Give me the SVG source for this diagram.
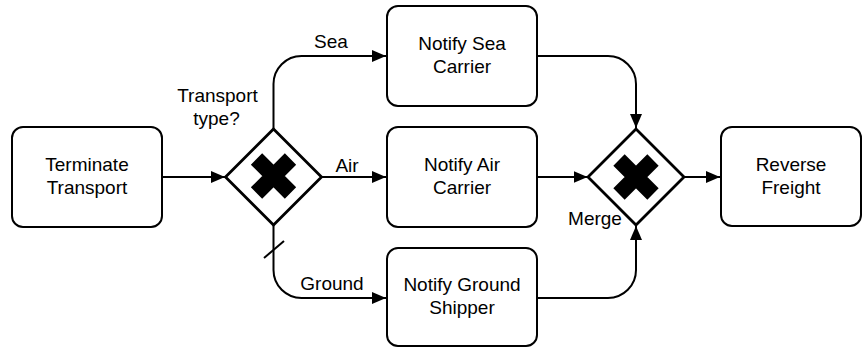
<svg xmlns="http://www.w3.org/2000/svg" width="863" height="347" viewBox="0 0 863 347">
<style>
.box{fill:#fff;stroke:#000;stroke-width:2}
.gw{fill:#fff;stroke:#000;stroke-width:2.8;stroke-linejoin:miter}
.x{stroke:#000;stroke-width:16;stroke-linecap:butt;fill:none}
.t{font-family:"Liberation Sans",Arial,sans-serif;font-size:19px;fill:#000;text-anchor:middle}
.c{fill:none;stroke:#000;stroke-width:2}
</style>
<defs>
<marker id="ah" viewBox="0 0 14 12" refX="14" refY="6" markerWidth="14" markerHeight="12" markerUnits="userSpaceOnUse" orient="auto">
<path d="M0,0 L14,6 L0,12 Z" fill="#000"/>
</marker>
</defs>
<g id="connectors">
<path class="c" d="M162,177 H225" marker-end="url(#ah)"/>
<path class="c" d="M273.5,129 V84 A28,28 0 0 1 301.5,56 H386" marker-end="url(#ah)"/>
<path class="c" d="M321.5,177 H386" marker-end="url(#ah)"/>
<path class="c" d="M273.5,225 V270 A28,28 0 0 0 301.5,298 H386" marker-end="url(#ah)"/>
<path class="c" d="M264,258 L284,241"/>
<path class="c" d="M537,56 H608 A28,28 0 0 1 636,84 V128" marker-end="url(#ah)"/>
<path class="c" d="M537,177 H587.5" marker-end="url(#ah)"/>
<path class="c" d="M537,298 H608 A28,28 0 0 0 636,270 V226" marker-end="url(#ah)"/>
<path class="c" d="M684.5,177 H720" marker-end="url(#ah)"/>
<text class="t" x="331" y="48">Sea</text>
<text class="t" x="347" y="172">Air</text>
<text class="t" x="332" y="290">Ground</text>
</g>
<g id="terminate">
<rect class="box" x="12" y="127" width="150" height="100" rx="11"/>
<text class="t" x="87" y="171">Terminate</text>
<text class="t" x="87" y="194">Transport</text>
</g>
<g id="split">
<path class="gw" d="M273.5,129 L321.5,177 L273.5,225 L225.5,177 Z"/>
<path class="x" d="M256.5,159 L290.5,193 M290.5,159 L256.5,193"/>
<text class="t" x="217.5" y="102">Transport</text>
<text class="t" x="216.5" y="125">type?</text>
</g>
<g id="sea">
<rect class="box" x="387" y="6" width="150" height="100" rx="11"/>
<text class="t" x="462" y="50">Notify Sea</text>
<text class="t" x="462" y="73">Carrier</text>
</g>
<g id="air">
<rect class="box" x="387" y="127" width="150" height="100" rx="11"/>
<text class="t" x="462" y="171">Notify Air</text>
<text class="t" x="462" y="194">Carrier</text>
</g>
<g id="ground">
<rect class="box" x="387" y="248" width="150" height="98" rx="11"/>
<text class="t" x="462" y="291">Notify Ground</text>
<text class="t" x="462" y="314">Shipper</text>
</g>
<g id="merge">
<path class="gw" d="M636,129 L684,177 L636,225 L588,177 Z"/>
<path class="x" d="M619,160 L653,194 M653,160 L619,194"/>
<text class="t" x="595" y="225">Merge</text>
</g>
<g id="reverse">
<rect class="box" x="721" y="127" width="140" height="99" rx="11"/>
<text class="t" x="791" y="171">Reverse</text>
<text class="t" x="791" y="194">Freight</text>
</g>
</svg>
